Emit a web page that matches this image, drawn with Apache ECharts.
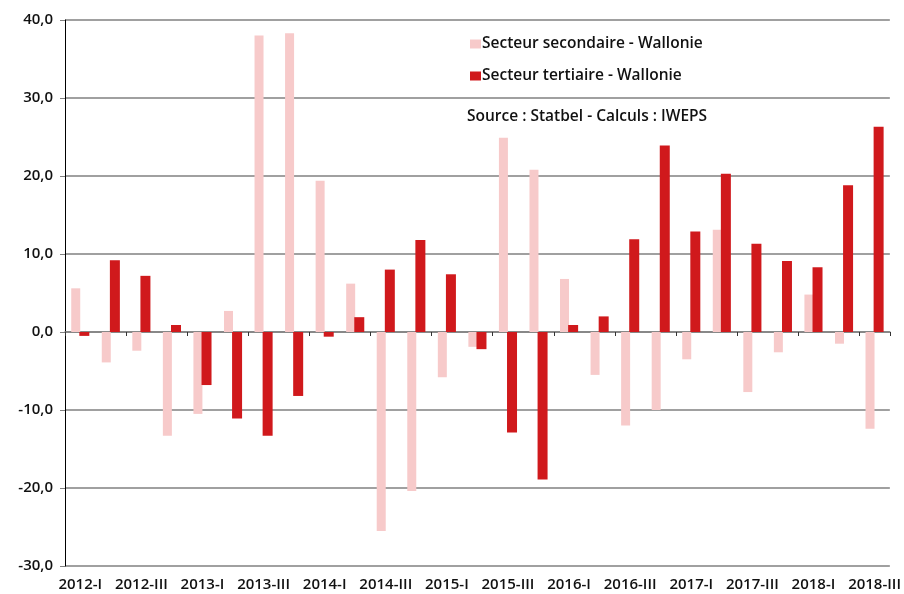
<!DOCTYPE html>
<html>
<head>
<meta charset="utf-8">
<script src="https://cdn.jsdelivr.net/npm/echarts@6/dist/echarts.min.js"></script>
<style>
  html, body { margin: 0; padding: 0; background: #fff; }
  #chart { width: 904px; height: 594px; }
</style>
</head>
<body>
<div id="chart"></div>
<script>
// trimestres
var quarters = ['2012-I', '2012-II', '2012-III', '2012-IV',
    '2013-I', '2013-II', '2013-III', '2013-IV',
    '2014-I', '2014-II', '2014-III', '2014-IV',
    '2015-I', '2015-II', '2015-III', '2015-IV',
    '2016-I', '2016-II', '2016-III', '2016-IV',
    '2017-I', '2017-II', '2017-III', '2017-IV',
    '2018-I', '2018-II', '2018-III'];

var secondaire = [5.6, -3.9, -2.4, -13.3, -10.5, 2.7, 38.0, 38.3, 19.4, 6.2, -25.5, -20.4, -5.8, -1.9,
    24.9, 20.8, 6.8, -5.5, -12.0, -10.0, -3.5, 13.1, -7.7, -2.6, 4.8, -1.5, -12.4];

var tertiaire = [-0.5, 9.2, 7.2, 0.9, -6.8, -11.1, -13.3, -8.2, -0.6, 1.9, 8.0, 11.8, 7.4, -2.2,
    -12.9, -18.9, 0.9, 2.0, 11.9, 23.9, 12.9, 20.3, 11.3, 9.1, 8.3, 18.8, 26.3];

var yTicks = {min: -30, max: 40, step: 10};

var fontFam = 'Open Sans';
var txtColor = '#111';
var chart = echarts.init(document.getElementById('chart'));
var option = {
    animation: false,
    textStyle: {fontFamily: fontFam},
    title: {
        text: 'Source : Statbel - Calculs : IWEPS',
        left: 462,
        top: 104,
        textStyle: {fontSize: 15.5, fontWeight: 600, color: txtColor, fontFamily: fontFam}
    },
    legend: {
        orient: 'vertical',
        left: 465,
        top: 31,
        itemWidth: 11,
        itemHeight: 9,
        itemGap: 16,
        icon: 'rect',
        textStyle: {fontSize: 15.5, fontWeight: 600, color: txtColor, padding: [0, 0, 0, -4]},
        data: ['Secteur secondaire - Wallonie', 'Secteur tertiaire - Wallonie']
    },
    grid: {left: 65, right: 14, top: 20, bottom: 28},
    xAxis: [{
        type: 'category',
        data: quarters,
        axisLine: {onZero: true, lineStyle: {color: '#808080', width: 1.5}},
        axisTick: {show: true, interval: 1, length: 4, inside: false, lineStyle: {color: '#333'}},
        axisLabel: {show: false}
    }, {
        type: 'category',
        data: quarters,
        position: 'bottom',
        axisLine: {show: false, onZero: false},
        axisTick: {show: false},
        axisLabel: {interval: 1, fontSize: 15, fontWeight: 600, color: txtColor, margin: 11}
    }],
    yAxis: {
        type: 'value',
        min: yTicks.min,
        max: yTicks.max,
        interval: yTicks.step,
        axisLine: {show: true, lineStyle: {color: '#000', width: 1}},
        axisTick: {show: true, length: 5, lineStyle: {color: '#808080'}},
        splitLine: {lineStyle: {color: '#808080', width: 1.5}},
        axisLabel: {
            fontSize: 15, fontWeight: 600, color: txtColor, margin: 12,
            formatter: function (v) { return v.toFixed(1).replace('.', ','); }
        }
    },
    series: [{
        name: 'Secteur secondaire - Wallonie',
        type: 'bar',
        data: secondaire,
        barWidth: 9,
        barGap: '-10%',
        itemStyle: {color: '#f7caca'}
    }, {
        name: 'Secteur tertiaire - Wallonie',
        type: 'bar',
        data: tertiaire,
        barWidth: 10,
        itemStyle: {color: '#d0191c'}
    }]
};
chart.setOption(option);
</script>
</body>
</html>
